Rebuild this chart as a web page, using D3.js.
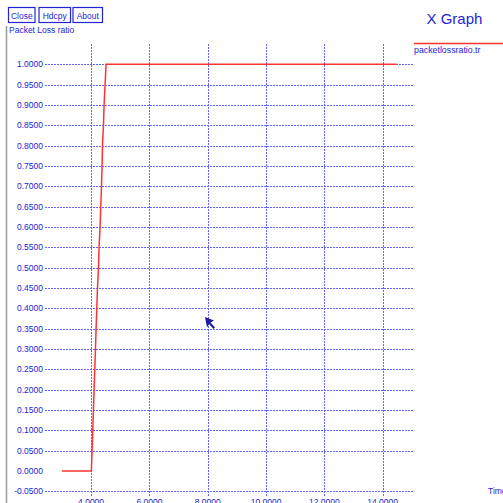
<!DOCTYPE html>
<html>
<head>
<meta charset="utf-8">
<script src="https://cdn.jsdelivr.net/npm/d3@7"></script>
<style>
  html, body { margin: 0; padding: 0; background: #fff; }
  svg { display: block; font-family: "Liberation Sans", Arial, sans-serif; }
</style>
</head>
<body>
<svg id="chart" width="503" height="503"></svg>
<script>
// Packet loss ratio trace (time in seconds, ratio 0..1)
const time = [3.0, 4.01, 4.034, 4.058, 4.082, 4.103, 4.127, 4.151, 4.172, 4.196, 4.22,
              4.254, 4.274, 4.309, 4.333, 4.357, 4.377, 4.391, 4.425, 4.446, 4.48, 4.515, 14.48];
const lossRatio = [0, 0, 0.05, 0.10, 0.15, 0.20, 0.25, 0.30, 0.35, 0.40, 0.45,
                   0.50, 0.55, 0.60, 0.65, 0.70, 0.75, 0.80, 0.85, 0.90, 0.95, 1.0, 1.0];

const xTicks = [4, 6, 8, 10, 12, 14];
const yTicks = [-0.05, 0, 0.05, 0.10, 0.15, 0.20, 0.25, 0.30, 0.35, 0.40, 0.45, 0.50,
                0.55, 0.60, 0.65, 0.70, 0.75, 0.80, 0.85, 0.90, 0.95, 1.0];
const buttons = ["Close", "Hdcpy", "About"];
const seriesName = "packetlossratio.tr";

const blue = "#2424d4";
const gridBlue = "#6464ff";
const red = "#ff3333";

const svg = d3.select("#chart");

const x = d3.scaleLinear().domain([2.42, 15.04]).range([45, 413]);
const y = d3.scaleLinear().domain([-0.05, 1.05]).range([491.3, 44]);

// left window edge
svg.append("line").attr("x1", 6.5).attr("x2", 6.5).attr("y1", 26).attr("y2", 503)
  .attr("stroke", "#9a9a9a").attr("stroke-width", 1.5);

// control buttons
const btnX = [8, 38.5, 72.5];
const btnW = [26.5, 31.5, 29.5];
buttons.forEach((b, i) => {
  svg.append("rect").attr("x", btnX[i] + 0.5).attr("y", 7.5).attr("width", btnW[i]).attr("height", 15)
    .attr("fill", "#fff").attr("stroke", blue).attr("stroke-width", 1.2);
  svg.append("text").attr("x", btnX[i] + 0.5 + btnW[i] / 2).attr("y", 18.5)
    .attr("text-anchor", "middle").attr("font-size", 8.5).attr("fill", blue).text(b);
});

// titles
svg.append("text").attr("x", 9).attr("y", 33).attr("font-size", 8.5).attr("fill", blue)
  .text("Packet Loss ratio");
svg.append("text").attr("x", 426.5).attr("y", 24).attr("font-size", 15).attr("fill", blue)
  .text("X Graph");
svg.append("text").attr("x", 488).attr("y", 494).attr("font-size", 8.5).attr("fill", blue)
  .text("Time");

// horizontal grid + y labels
yTicks.forEach(v => {
  const yy = Math.round(y(v)) + 0.5;
  if (v !== 0) {
    svg.append("line").attr("x1", 45).attr("x2", 413).attr("y1", yy).attr("y2", yy)
      .attr("stroke", gridBlue).attr("stroke-width", 1).attr("stroke-dasharray", "2,1");
  }
  svg.append("text").attr("x", 43).attr("y", y(v) + 3).attr("text-anchor", "end")
    .attr("font-size", 8.5).attr("fill", blue).text(d3.format(".4f")(v).replace("−", "-"));
});

// vertical grid + x labels
xTicks.forEach(v => {
  const xx = Math.round(x(v)) + 0.5;
  svg.append("line").attr("x1", xx).attr("x2", xx).attr("y1", 44).attr("y2", 497)
    .attr("stroke", gridBlue).attr("stroke-width", 1).attr("stroke-dasharray", "2,1");
  svg.append("text").attr("x", x(v)).attr("y", 504.5).attr("text-anchor", "middle")
    .attr("font-size", 8.5).attr("fill", blue).text(d3.format(".4f")(v));
});

// data trace
const pts = time.map((t, i) => [t, lossRatio[i]]);
svg.append("path").datum(pts)
  .attr("d", d3.line().x(d => x(d[0])).y(d => y(d[1])))
  .attr("fill", "none").attr("stroke", red).attr("stroke-width", 1.5);

// legend
svg.append("line").attr("x1", 414).attr("x2", 503).attr("y1", 43.5).attr("y2", 43.5)
  .attr("stroke", red).attr("stroke-width", 1.5);
svg.append("text").attr("x", 414).attr("y", 53).attr("font-size", 8.8).attr("fill", blue)
  .text(seriesName);

// pointer
svg.append("path")
  .attr("d", "M205,317 L214,320.5 L210.5,322.5 L215,327.5 L213.5,329 L209,324 L207,327.5 Z")
  .attr("fill", "#1c1ca0");
</script>
</body>
</html>
